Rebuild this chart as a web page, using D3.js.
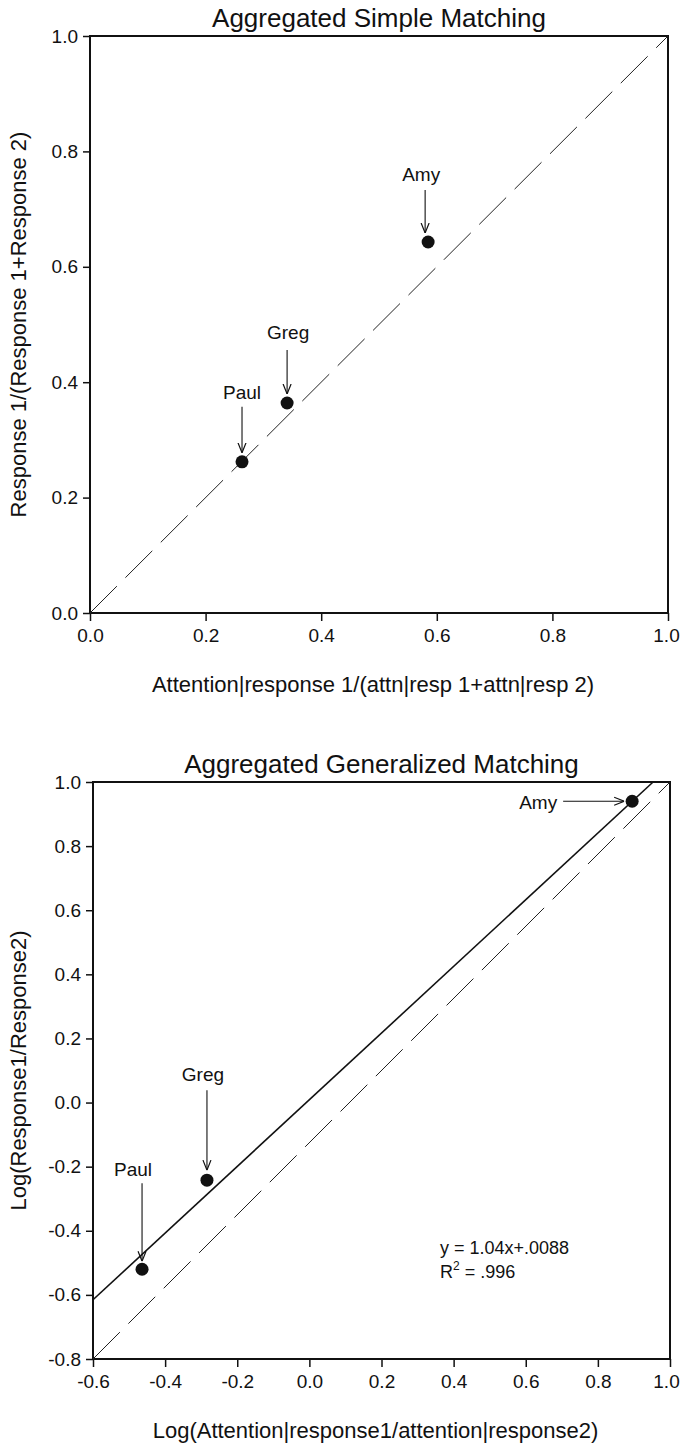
<!DOCTYPE html>
<html>
<head>
<meta charset="utf-8">
<script src="https://cdn.jsdelivr.net/npm/d3@7"></script>
<style>
  body { margin: 0; background: #fff; }
  svg text { font-family: "Liberation Sans", Arial, Helvetica, sans-serif; fill: #111; }
</style>
</head>
<body>
<script>
var width = 682
var height = 1445

// data
var names = ["Paul", "Greg", "Amy"]
var simpleX = [0.263, 0.341, 0.585]
var simpleY = [0.262, 0.364, 0.643]
var genX = [-0.464, -0.284, 0.895]
var genY = [-0.52, -0.242, 0.94]
var simpleTicks = [0, 0.2, 0.4, 0.6, 0.8, 1.0]
var genXTicks = [-0.6, -0.4, -0.2, 0, 0.2, 0.4, 0.6, 0.8, 1.0]
var genYTicks = [-0.8, -0.6, -0.4, -0.2, 0, 0.2, 0.4, 0.6, 0.8, 1.0]
var simpleRef = [[0, 0], [1, 1]]
var genRef = [[-0.6, -0.8], [1.0, 1.0]]
var slope = 1.04
var intercept = 0.0088
var fitLabel = "y = 1.04x+.0088"
var r2Label = ".996"

var svg = d3.select("body").append("svg")
  .attr("width", width)
  .attr("height", height)

var defs = svg.append("defs")
defs.append("marker")
  .attr("id", "arrow")
  .attr("viewBox", "0 0 10 10")
  .attr("refX", 10).attr("refY", 5)
  .attr("markerWidth", 10).attr("markerHeight", 10)
  .attr("markerUnits", "userSpaceOnUse")
  .attr("orient", "auto")
  .append("path")
  .attr("d", "M0,1 L10,5 L0,9")
  .attr("fill", "none")
  .attr("stroke", "#111")
  .attr("stroke-width", 1.2)

// plain hyphen for negatives, like the original
var fmt = function(d) { return d3.format(".1f")(d).replace("\u2212", "-") }

function drawPanel(opt) {
  var x = d3.scaleLinear().domain(opt.xDomain).range([opt.left, opt.right])
  var y = d3.scaleLinear().domain(opt.yDomain).range([opt.bottom, opt.top])
  var g = svg.append("g")

  // frame
  g.append("rect")
    .attr("x", opt.left).attr("y", opt.top)
    .attr("width", opt.right - opt.left).attr("height", opt.bottom - opt.top)
    .attr("fill", "none").attr("stroke", "#111").attr("stroke-width", 2)

  var xAxis = g.append("g")
    .attr("transform", "translate(0," + opt.bottom + ")")
    .call(d3.axisBottom(x).tickValues(opt.xTicks).tickFormat(fmt).tickSize(8).tickPadding(8))
  var yAxis = g.append("g")
    .attr("transform", "translate(" + opt.left + ",0)")
    .call(d3.axisLeft(y).tickValues(opt.yTicks).tickFormat(fmt).tickSize(7).tickPadding(5))
  ;[xAxis, yAxis].forEach(function(a) {
    a.select(".domain").remove()
    a.selectAll(".tick line").attr("stroke", "#111").attr("stroke-width", 1.5)
    a.selectAll(".tick text").attr("font-size", 19).attr("fill", "#111")
      .style("font-family", "Liberation Sans, Arial, sans-serif")
  })
  // keep the last x label inside the page
  xAxis.selectAll(".tick text").filter(function(d) { return d === opt.xDomain[1] })
    .attr("dx", opt.lastDx || 0)

  // 1:1 dashed reference
  g.append("line")
    .attr("x1", x(opt.ref[0][0])).attr("y1", y(opt.ref[0][1]))
    .attr("x2", x(opt.ref[1][0])).attr("y2", y(opt.ref[1][1]))
    .attr("stroke", "#222").attr("stroke-width", 1)
    .attr("stroke-dasharray", "38,12")

  if (opt.fit) {
    var x0 = opt.xDomain[0]
    var x1 = (opt.yDomain[1] - intercept) / slope
    g.append("line")
      .attr("x1", x(x0)).attr("y1", y(slope * x0 + intercept))
      .attr("x2", x(x1)).attr("y2", y(slope * x1 + intercept))
      .attr("stroke", "#111").attr("stroke-width", 1.6)
  }

  var pts = names.map(function(n, i) { return {name: n, x: opt.xs[i], y: opt.ys[i]} })

  g.selectAll("circle.pt")
    .data(pts).enter().append("circle")
    .attr("class", "pt")
    .attr("cx", function(d) { return x(d.x) })
    .attr("cy", function(d) { return y(d.y) })
    .attr("r", 6.5)
    .attr("fill", "#111")

  // labels with arrows
  pts.forEach(function(d, i) {
    var a = opt.notes[i]
    var px = x(d.x), py = y(d.y)
    g.append("line")
      .attr("x1", px + a.ax1).attr("y1", py + a.ay1)
      .attr("x2", px + a.ax2).attr("y2", py + a.ay2)
      .attr("stroke", "#111").attr("stroke-width", 1.1)
      .attr("marker-end", "url(#arrow)")
    g.append("text")
      .attr("x", px + a.lx).attr("y", py + a.ly)
      .attr("text-anchor", "middle")
      .attr("dominant-baseline", "central")
      .attr("font-size", 19)
      .text(d.name)
  })

  svg.append("text")
    .attr("x", (opt.left + opt.right) / 2).attr("y", opt.top - 9)
    .attr("text-anchor", "middle")
    .attr("font-size", 26)
    .text(opt.title)
  svg.append("text")
    .attr("x", (opt.left + opt.right) / 2 - 6).attr("y", opt.bottom + 79)
    .attr("text-anchor", "middle")
    .attr("font-size", 22)
    .text(opt.xTitle)
  svg.append("text")
    .attr("transform", "translate(26," + (opt.top + opt.bottom) / 2 + ") rotate(-90)")
    .attr("text-anchor", "middle")
    .attr("font-size", 22)
    .text(opt.yTitle)

  return {x: x, y: y, g: g}
}

drawPanel({
  left: 90, right: 668, top: 36, bottom: 613,
  xDomain: [0, 1], yDomain: [0, 1],
  xTicks: simpleTicks, yTicks: simpleTicks,
  xs: simpleX, ys: simpleY, ref: simpleRef, fit: false,
  lastDx: -2,
  title: "Aggregated Simple Matching",
  xTitle: "Attention|response 1/(attn|resp 1+attn|resp 2)",
  yTitle: "Response 1/(Response 1+Response 2)",
  notes: [
    {lx: 0, ly: -69, ax1: 0, ay1: -55, ax2: 0, ay2: -9},
    {lx: 1, ly: -70, ax1: 0, ay1: -53, ax2: 0, ay2: -9},
    {lx: -7, ly: -67, ax1: -3, ay1: -52, ax2: -3, ay2: -9}
  ]
})

var p2 = drawPanel({
  left: 93, right: 670, top: 782, bottom: 1359,
  xDomain: [-0.6, 1.0], yDomain: [-0.8, 1.0],
  xTicks: genXTicks, yTicks: genYTicks,
  xs: genX, ys: genY, ref: genRef, fit: true,
  lastDx: -4,
  title: "Aggregated Generalized Matching",
  xTitle: "Log(Attention|response1/attention|response2)",
  yTitle: "Log(Response1/Response2)",
  notes: [
    {lx: -9, ly: -100, ax1: 0, ay1: -86, ax2: 0, ay2: -8},
    {lx: -4, ly: -106, ax1: 0, ay1: -90, ax2: 0, ay2: -10},
    {lx: -94, ly: 1, ax1: -69, ay1: 0, ax2: -8, ay2: 0}
  ]
})

// regression equation
var eq = p2.g.append("text")
  .attr("x", 440).attr("y", 1254)
  .attr("font-size", 18)
  .text(fitLabel)
var r2 = p2.g.append("text")
  .attr("x", 440).attr("y", 1278)
  .attr("font-size", 18)
r2.append("tspan").text("R")
r2.append("tspan").attr("dy", -8).attr("font-size", 12).text("2")
r2.append("tspan").attr("dy", 8).text(" = " + r2Label)
</script>
</body>
</html>
